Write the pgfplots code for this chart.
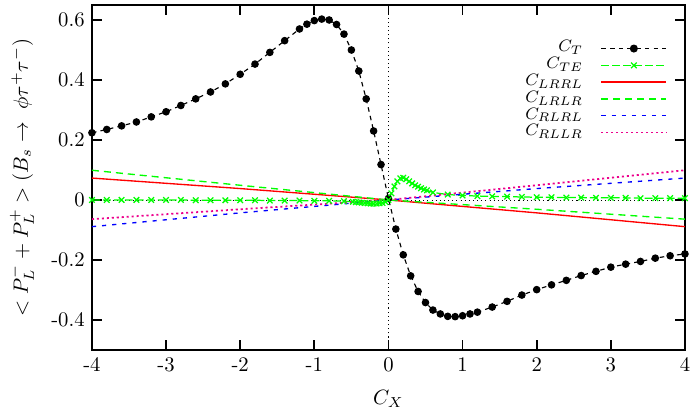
\documentclass[border=0pt]{standalone}
\usepackage{pgfplots}
\pgfplotsset{compat=1.18}
\pgfplotstableread{
x y
-4.0 0.224
-3.8 0.235
-3.6 0.247
-3.4 0.260
-3.2 0.277
-3.0 0.294
-2.8 0.315
-2.6 0.337
-2.4 0.360
-2.2 0.387
-2.0 0.419
-1.8 0.453
-1.6 0.492
-1.4 0.531
-1.2 0.570
-1.1 0.586
-1.0 0.598
-0.9 0.603
-0.8 0.600
-0.7 0.585
-0.6 0.553
-0.5 0.500
-0.4 0.430
-0.3 0.337
-0.2 0.230
-0.1 0.118
0.0 0.005
0.1 -0.097
0.2 -0.183
0.3 -0.253
0.4 -0.305
0.5 -0.342
0.6 -0.367
0.7 -0.380
0.8 -0.388
0.9 -0.389
1.0 -0.386
1.1 -0.380
1.2 -0.374
1.4 -0.357
1.6 -0.338
1.8 -0.317
2.0 -0.299
2.2 -0.283
2.4 -0.268
2.6 -0.252
2.8 -0.238
3.0 -0.224
3.2 -0.214
3.4 -0.205
3.6 -0.194
3.8 -0.186
4.0 -0.180
}\dataCT
\pgfplotstableread{
x y
-4.0 0.000
-3.8 0.000
-3.6 0.000
-3.4 0.000
-3.2 0.000
-3.0 0.000
-2.8 0.000
-2.6 -0.001
-2.4 -0.001
-2.2 -0.001
-2.0 -0.001
-1.8 -0.001
-1.6 -0.002
-1.4 -0.002
-1.2 -0.002
-1.0 -0.003
-0.8 -0.003
-0.6 -0.004
-0.48 -0.006
-0.44 -0.007
-0.40 -0.008
-0.36 -0.009
-0.32 -0.010
-0.28 -0.011
-0.24 -0.012
-0.20 -0.012
-0.16 -0.012
-0.12 -0.011
-0.08 -0.010
-0.04 -0.007
0.00 0.000
0.04 0.022
0.08 0.045
0.12 0.062
0.16 0.072
0.20 0.074
0.24 0.069
0.28 0.062
0.32 0.055
0.36 0.049
0.40 0.044
0.44 0.039
0.48 0.035
0.52 0.032
0.60 0.025
0.80 0.018
1.0 0.015
1.2 0.013
1.4 0.012
1.6 0.011
1.8 0.010
2.0 0.009
2.2 0.009
2.4 0.008
2.6 0.008
2.8 0.007
3.0 0.007
3.2 0.007
3.4 0.006
3.6 0.006
3.8 0.006
4.0 0.006
}\dataCTE
\begin{document}
\begin{tikzpicture}
\useasboundingbox (-44.4pt,-30.4pt) rectangle (289.8pt,169pt);
\begin{axis}[
  at={(0,0)}, anchor=south west,
  scale only axis, width=286.4pt, height=166.6pt,
  xmin=-4, xmax=4, ymin=-0.5, ymax=0.65,
  xtick={-4,-3,-2,-1,0,1,2,3,4},
  xticklabels={-4,-3,-2,-1,0,1,2,3,4},
  ytick={-0.4,-0.2,0,0.2,0.4,0.6},
  yticklabels={-0.4,-0.2,0,0.2,0.4,0.6},
  axis line style={line width=0.9pt},
  every tick/.style={black, line width=0.9pt},
  major tick length=4.8pt,
  xlabel={$C_X$},
  ylabel={$<P_L^- + P_L^+> (B_s\rightarrow\ \phi\tau^+\tau^-)$},
  xlabel style={at={(axis description cs:0.5,-0.142)}, anchor=center},
  ylabel style={at={(axis description cs:-0.118,0.5)}, anchor=center},
  legend plot pos=right,
  legend cell align=right,
  legend style={at={(0.97,0.898)}, anchor=north east, draw=none, fill=none,
    inner sep=0pt, outer sep=0pt, row sep=0pt, column sep=8pt,
    font=\fontsize{8.5}{9}\selectfont,
    nodes={inner sep=0.5pt, text height=5.2pt, text depth=1.9pt}},
  legend image code/.code={\draw[line width=0.75pt, mark repeat=2,mark phase=2] plot coordinates {(0pt,0pt) (15.7pt,0pt) (31.4pt,0pt)};},
]
\addplot[black, line width=0.4pt, dash pattern=on 0.5pt off 1.5pt, forget plot] coordinates {(0,-0.5) (0,0.65)};
\addplot[black, line width=0.4pt, dash pattern=on 0.5pt off 1.5pt, forget plot] coordinates {(-4,0) (4,0)};
\addplot[black, line width=0.55pt, dash pattern=on 2.2pt off 2pt, mark=*, mark size=1.55pt, mark options={solid}] table[x=x,y=y] {\dataCT};
\addlegendentry{$C_T$}
\addplot[green, line width=0.6pt, dash pattern=on 3.8pt off 1.5pt, mark=x, mark size=1.9pt, mark options={solid, line width=0.6pt}] table[x=x,y=y] {\dataCTE};
\addlegendentry{$C_{TE}$}
\addplot[red, line width=0.65pt] coordinates {(-4,0.073) (-2,0.038) (0,0) (2,-0.043) (4,-0.089)};
\addlegendentry{$C_{LRRL}$}
\addplot[green, line width=0.65pt, dash pattern=on 3.4pt off 2.4pt] coordinates {(-4,0.099) (-2,0.049) (0,0) (2,-0.031) (4,-0.064)};
\addlegendentry{$C_{LRLR}$}
\addplot[blue, line width=0.65pt, dash pattern=on 2pt off 2.9pt] coordinates {(-4,-0.089) (-2,-0.043) (0,0) (2,0.038) (4,0.073)};
\addlegendentry{$C_{RLRL}$}
\addplot[magenta, line width=0.85pt, dash pattern=on 1pt off 1.4pt] coordinates {(-4,-0.064) (-2,-0.031) (0,0) (2,0.049) (4,0.099)};
\addlegendentry{$C_{RLLR}$}
\end{axis}
\end{tikzpicture}
\end{document}
